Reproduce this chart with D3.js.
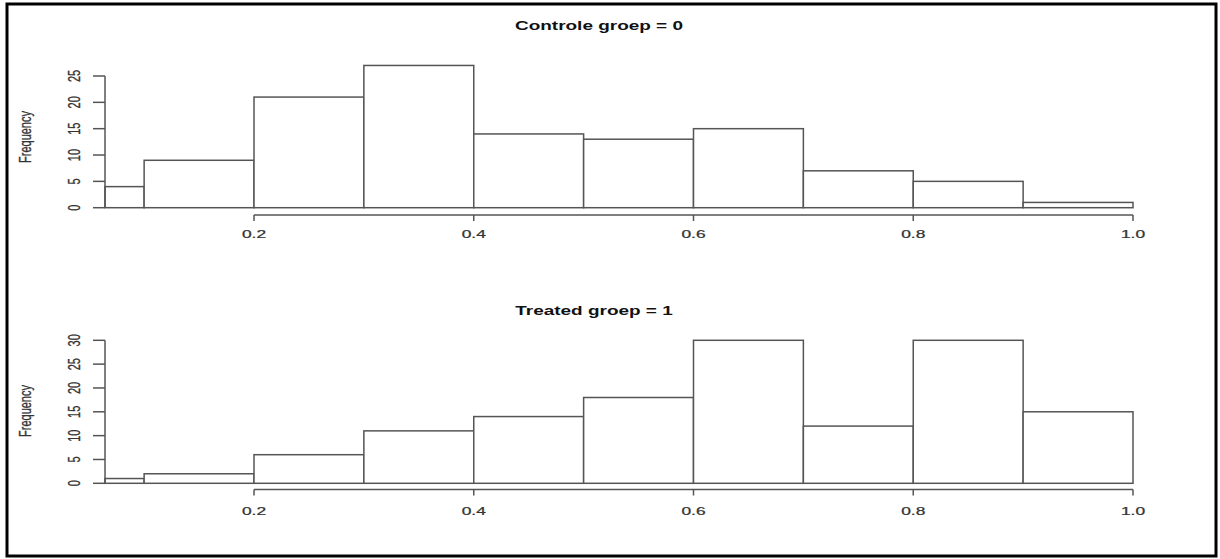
<!DOCTYPE html>
<html><head><meta charset="utf-8">
<script src="https://cdn.jsdelivr.net/npm/d3@7/dist/d3.min.js"></script>
<style>body{margin:0;background:#fff}svg{display:block}text{font-family:"Liberation Sans",Arial,sans-serif}</style>
</head><body><svg id="c" width="1220" height="559"></svg>
<script>
const breaks = [0.0644, 0.1, 0.2, 0.3, 0.4, 0.5, 0.6, 0.7, 0.8, 0.9, 1.0];
const controlCounts = [4, 9, 21, 27, 14, 13, 15, 7, 5, 1];
const treatedCounts = [1, 2, 6, 11, 14, 18, 30, 12, 30, 15];
const xTicks = [0.2, 0.4, 0.6, 0.8, 1.0];
const controlYTicks = [0, 5, 10, 15, 20, 25];
const treatedYTicks = [0, 5, 10, 15, 20, 25, 30];
const titles = ["Controle groep = 0", "Treated groep = 1"];

const svg = d3.select("#c");
svg.append("rect").attr("x", 7).attr("y", 4).attr("width", 1209).attr("height", 552)
  .attr("fill", "none").attr("stroke", "#000").attr("stroke-width", 3);

const x = d3.scaleLinear().domain([0.2, 1.0]).range([254, 1133]);
const SX = 1.58;
const lineCol = "#555";
const lw = 1.5;

const panels = [
  {counts: controlCounts, yTicks: controlYTicks, title: titles[0], y0: 207.7, yTop: 76, ymax: 25, axisY: 215, tickLblY: 238, titleX: 599, titleY: 30, ylabY: 137},
  {counts: treatedCounts, yTicks: treatedYTicks, title: titles[1], y0: 483.3, yTop: 340.3, ymax: 30, axisY: 489.5, tickLblY: 515, titleX: 594, titleY: 315, ylabY: 411}
];

panels.forEach(p => {
  const y = d3.scaleLinear().domain([0, p.ymax]).range([p.y0, p.yTop]);
  const g = svg.append("g");
  g.selectAll("rect.bar").data(p.counts).join("rect")
    .attr("x", (d, i) => x(breaks[i]))
    .attr("width", (d, i) => x(breaks[i + 1]) - x(breaks[i]))
    .attr("y", d => y(d))
    .attr("height", d => y(0) - y(d))
    .attr("fill", "#fff").attr("stroke", lineCol).attr("stroke-width", lw);
  const xa = g.append("g");
  xa.append("line").attr("x1", x(xTicks[0])).attr("x2", x(xTicks[xTicks.length - 1]))
    .attr("y1", p.axisY).attr("y2", p.axisY).attr("stroke", lineCol).attr("stroke-width", lw);
  xTicks.forEach(t => {
    xa.append("line").attr("x1", x(t)).attr("x2", x(t)).attr("y1", p.axisY).attr("y2", p.axisY + 6)
      .attr("stroke", lineCol).attr("stroke-width", lw);
    xa.append("text").attr("transform", `translate(${x(t)},${p.tickLblY}) scale(${SX},1)`)
      .attr("text-anchor", "middle").attr("font-size", 11).attr("fill", "#333")
      .attr("stroke", "#333").attr("stroke-width", 0.25).text(t.toFixed(1));
  });
  const ya = g.append("g");
  const yAxisX = x(breaks[0]);
  ya.append("line").attr("x1", yAxisX).attr("x2", yAxisX).attr("y1", y(0)).attr("y2", y(p.ymax))
    .attr("stroke", lineCol).attr("stroke-width", lw);
  p.yTicks.forEach(t => {
    ya.append("line").attr("x1", yAxisX - 12).attr("x2", yAxisX).attr("y1", y(t)).attr("y2", y(t))
      .attr("stroke", lineCol).attr("stroke-width", lw);
    ya.append("text").attr("transform", `translate(${yAxisX - 25},${y(t)}) scale(${SX},1) rotate(-90)`)
      .attr("text-anchor", "middle").attr("font-size", 11).attr("fill", "#333")
      .attr("stroke", "#333").attr("stroke-width", 0.2).text(t);
  });
  g.append("text").attr("transform", `translate(${31},${p.ylabY}) scale(${SX},1) rotate(-90)`)
    .attr("text-anchor", "middle").attr("font-size", 11).attr("fill", "#333")
    .attr("stroke", "#333").attr("stroke-width", 0.2).text("Frequency");
  g.append("text").attr("transform", `translate(${p.titleX},${p.titleY}) scale(${SX},1)`)
    .attr("text-anchor", "middle").attr("font-size", 12).attr("font-weight", "bold").attr("fill", "#111").text(p.title);
});
</script></body></html>
